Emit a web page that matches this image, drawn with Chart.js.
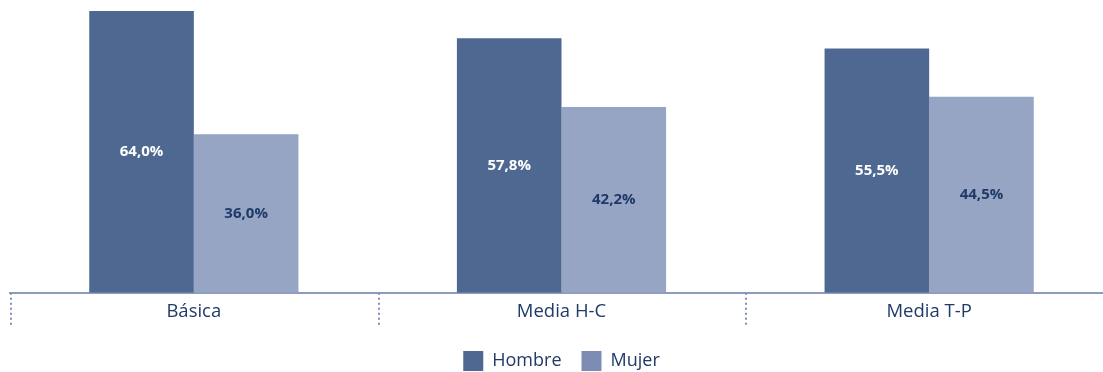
<!DOCTYPE html>
<html>
<head>
<meta charset="utf-8">
<script src="https://cdn.jsdelivr.net/npm/chart.js@4"></script>
<style>
  html, body { margin: 0; padding: 0; overflow: hidden; background: #fff; }
  #wrap { width: 1120px; height: 381px; }
</style>
</head>
<body>
<div id="wrap"><canvas id="myChart" width="1120" height="381"></canvas></div>
<script>
var categories = ['Básica', 'Media H-C', 'Media T-P'];
var hombre = [64.0, 57.8, 55.5];
var mujer = [36.0, 42.2, 44.5];
var seriesNames = ['Hombre', 'Mujer'];

var navy = '#1f3a68';

// write the value in the middle of each bar
var barLabels = {
    id: 'barLabels',
    afterDatasetsDraw: function (chart) {
        var ctx = chart.ctx;
        ctx.save();
        ctx.font = 'bold 15px "Open Sans"';
        ctx.textAlign = 'center';
        ctx.textBaseline = 'middle';
        chart.data.datasets.forEach(function (ds, i) {
            var meta = chart.getDatasetMeta(i);
            ctx.fillStyle = i == 0 ? '#ffffff' : navy;
            meta.data.forEach(function (bar, j) {
                var txt = ds.data[j].toFixed(1).replace('.', ',') + '%';
                ctx.fillText(txt, bar.x, (bar.y + bar.base) / 2);
            });
        });
        ctx.restore();
    }
};

// dotted separators between categories, below the axis
var separators = {
    id: 'separators',
    afterDraw: function (chart) {
        var x = chart.scales.x;
        var ctx = chart.ctx;
        var half = (x.getPixelForValue(1) - x.getPixelForValue(0)) / 2;
        ctx.save();
        ctx.strokeStyle = '#7f8fb5';
        ctx.lineWidth = 2;
        ctx.setLineDash([2, 3]);
        for (var i = 0; i < categories.length; i++) {
            var px = Math.round(x.getPixelForValue(i) - half) + 1;
            ctx.beginPath();
            ctx.moveTo(px, x.top);
            ctx.lineTo(px, x.top + 33);
            ctx.stroke();
        }
        ctx.restore();
    }
};

var ctx = document.getElementById('myChart').getContext('2d');
var myChart = new Chart(ctx, {
    type: 'bar',
    data: {
        labels: categories,
        datasets: [{
            label: seriesNames[0],
            data: hombre,
            backgroundColor: '#4e6892'
        }, {
            label: seriesNames[1],
            data: mujer,
            backgroundColor: '#95a5c3'
        }]
    },
    options: {
        responsive: false,
        animation: false,
        layout: { padding: { left: 10, right: 7, top: 11, bottom: 0 } },
        datasets: {
            bar: { categoryPercentage: 0.569, barPercentage: 1.0 }
        },
        scales: {
            x: {
                grid: { display: false, drawTicks: false },
                border: { display: true, color: '#8d9bbd', width: 2 },
                ticks: {
                    padding: 9,
                    color: navy,
                    font: { family: '"Open Sans"', size: 18.5, lineHeight: 1.1 }
                }
            },
            y: {
                display: false,
                min: 0,
                max: 64
            }
        },
        plugins: {
            tooltip: { enabled: false },
            legend: {
                position: 'bottom',
                labels: {
                    boxWidth: 20,
                    boxHeight: 20,
                    padding: 20,
                    color: navy,
                    font: { family: '"Open Sans"', size: 18 },
                    generateLabels: function (chart) {
                        var fills = ['#4e6892', '#7d8cb2'];
                        return chart.data.datasets.map(function (ds, i) {
                            return {
                                text: ds.label,
                                fillStyle: fills[i],
                                strokeStyle: fills[i],
                                lineWidth: 0,
                                fontColor: navy,
                                datasetIndex: i
                            };
                        });
                    }
                }
            }
        }
    },
    plugins: [barLabels, separators]
});
</script>
</body>
</html>
